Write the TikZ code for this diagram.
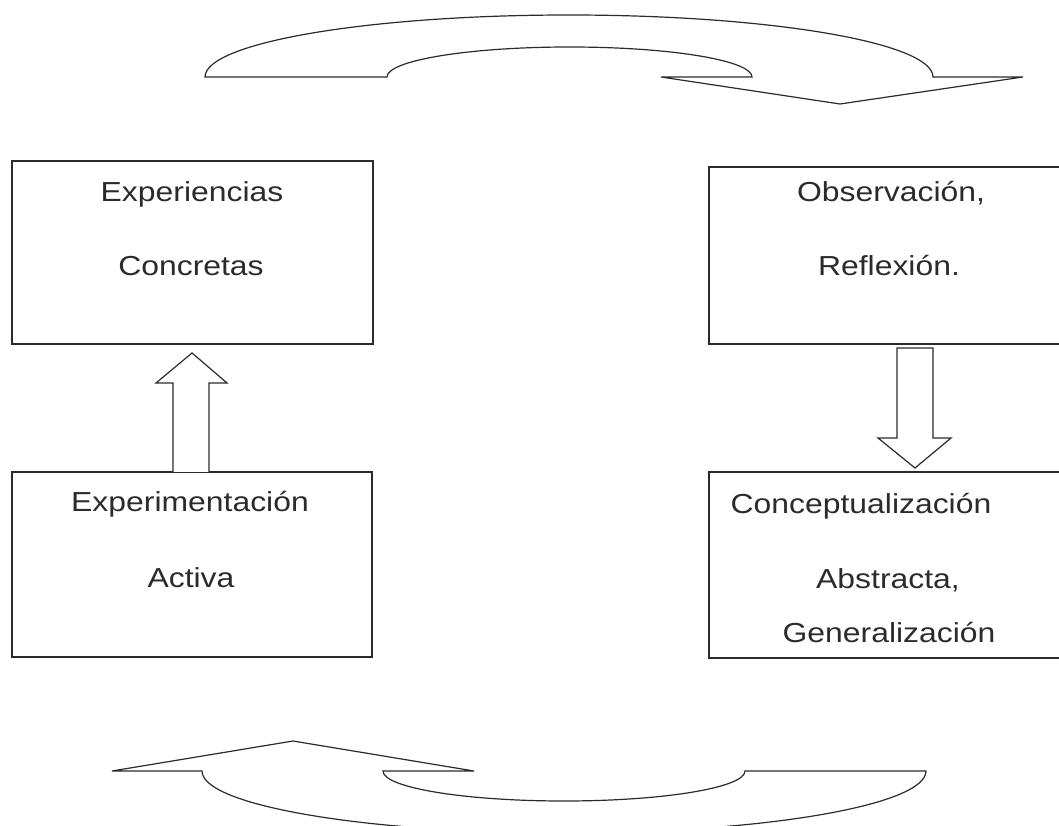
\documentclass[tikz,border=0pt]{standalone}
\usepackage{graphicx}
\usepackage{fontspec}
\setmainfont{Liberation Sans}
\newcommand\tx[1]{\scalebox{1.16}[1]{#1}}
\definecolor{ink}{HTML}{2B2B2B}
\begin{document}
\begin{tikzpicture}[x=1pt,y=1pt,
  box/.style={draw=ink,line width=1.3pt,rectangle,inner sep=0pt},
  lbl/.style={anchor=base,text=ink,font=\fontsize{27.5}{30}\selectfont,inner sep=0pt},
  blk/.style={draw=ink,fill=white,line width=1.2pt,line join=miter}]
\useasboundingbox (0,0) rectangle (1059,825);
\clip (0,0) rectangle (1059,825);
% boxes (y up: Y = 825 - y)
\node[box,minimum width=361pt,minimum height=183pt] (ec) at (192.5,572.5) {};
\node[box,minimum width=360pt,minimum height=185pt] (ea) at (192,260.5) {};
\node[box,minimum width=400pt,minimum height=177pt] (or) at (909,569.5) {};
\node[box,minimum width=400pt,minimum height=186pt] (ca) at (909,260) {};
% texts
\node[lbl] (t1) at (192,623) {\tx{Experiencias}};
\node[lbl] (t2) at (191,549) {\tx{Concretas}};
\node[lbl] (t3) at (190,313) {\tx{Experimentación}};
\node[lbl] (t4) at (191,238) {\tx{Activa}};
\node[lbl] (t5) at (891,623) {\tx{Observación,}};
\node[lbl] (t6) at (889,549) {\tx{Reflexión.}};
\node[lbl] (t7) at (861,312) {\tx{Conceptualización}};
\node[lbl] (t8) at (888,237) {\tx{Abstracta,}};
\node[lbl] (t9) at (889,183) {\tx{Generalización}};
% up block arrow: Experimentacion -> Experiencias
\draw[blk] (173,353) -- (173,442) -- (156,442) -- (192,472) -- (227,442) -- (209,442) -- (209,353);
% down block arrow: Observacion -> Conceptualizacion
\draw[blk] (897,477) -- (933,477) -- (933,387) -- (951,387) -- (915,357) -- (878,387) -- (897,387) -- cycle;
% top curved arrow
\draw[blk] (205,748) -- (387,748)
  arc[start angle=180,end angle=0,x radius=182.5,y radius=30]
  -- (661,748) -- (840,721) -- (1023,748) -- (933,748)
  arc[start angle=0,end angle=180,x radius=364,y radius=62] -- cycle;
% bottom curved arrow
\draw[blk] (112,54) -- (293,84) -- (474,54) -- (383,54)
  arc[start angle=180,end angle=360,x radius=181,y radius=30]
  -- (926,54)
  arc[start angle=0,end angle=-180,x radius=362,y radius=62] -- cycle;
\end{tikzpicture}
\end{document}
